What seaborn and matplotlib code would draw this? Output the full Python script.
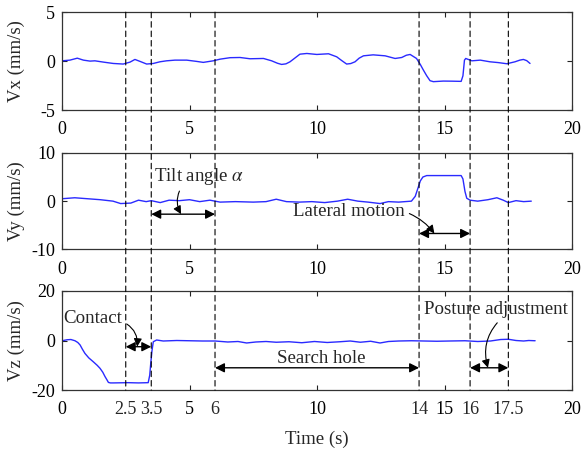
import numpy as np
import pandas as pd
import matplotlib
matplotlib.use("Agg")
import matplotlib.pyplot as plt
from matplotlib.patches import ConnectionPatch
import seaborn as sns

# Measured velocity components (time in s, velocity in mm/s)
t_vx = [0.0, 0.31, 0.6, 0.84, 1.1, 1.29, 1.62, 2.01, 2.4, 2.67, 2.86, 3.06, 3.32, 3.58,
        3.84, 4.1, 4.43, 4.89, 5.28, 5.54, 5.93, 6.2, 6.59, 6.98, 7.37, 7.9, 8.22, 8.45,
        8.61, 8.78, 8.94, 9.15, 9.33, 9.6, 9.99, 10.45, 10.77, 10.97, 11.16, 11.32, 11.49,
        11.65, 11.82, 12.2, 12.67, 13.06, 13.32, 13.5, 13.65, 13.9, 14.05, 14.17, 14.3,
        14.43, 14.56, 14.95, 15.3, 15.65, 15.72, 15.78, 15.83, 16.07, 16.4, 16.78, 17.1,
        17.44, 17.76, 17.95, 18.09, 18.22, 18.35]
vx = [0.03, 0.1, 0.3, 0.1, 0.0, 0.03, -0.1, -0.24, -0.3, -0.1, 0.17, -0.03, -0.3, -0.24,
      -0.07, 0.03, 0.1, 0.1, -0.03, -0.13, 0.03, 0.2, 0.35, 0.37, 0.24, 0.27, 0.03, -0.22,
      -0.34, -0.28, -0.07, 0.35, 0.71, 0.78, 0.68, 0.75, 0.44, 0.05, -0.3, -0.25, -0.07,
      0.3, 0.54, 0.64, 0.54, 0.27, 0.37, 0.6, 0.68, 0.27, -0.35, -0.92, -1.5, -2.0, -2.1,
      -2.04, -2.05, -2.07, -1.5, 0.1, 0.27, 0.03, 0.1, -0.07, -0.15, -0.27, -0.07, 0.1,
      0.17, 0.05, -0.24]

t_vy = [0.0, 0.5, 1.0, 1.5, 2.0, 2.3, 2.7, 3.0, 3.3, 3.5, 3.85, 4.2, 4.6, 5.0, 5.4, 5.8,
        6.2, 6.8, 7.5, 8.0, 8.4, 8.8, 9.3, 9.8, 10.3, 10.8, 11.2, 11.6, 12.0, 12.47,
        12.8, 13.2, 13.7, 13.85, 13.95, 14.05, 14.15, 14.3, 14.6, 15.0, 15.4, 15.65,
        15.72, 15.8, 15.87, 16.0, 16.3, 16.7, 17.05, 17.3, 17.5, 17.8, 18.1, 18.4]
vy = [0.5, 0.7, 0.5, 0.3, 0.0, -0.5, -0.4, 0.2, -0.1, 0.1, -0.3, 0.2, 0.1, 0.3, -0.1,
      0.2, -0.2, -0.1, -0.2, -0.1, 0.4, -0.1, -0.2, -0.1, -0.3, 0.0, 0.4, 0.0, -0.2,
      -0.5, -0.1, -0.2, 0.0, 1.0, 2.6, 4.2, 5.0, 5.3, 5.3, 5.3, 5.3, 5.3, 4.6, 2.0, 0.6,
      0.2, 0.0, 0.3, 0.7, 0.2, -0.3, 0.1, -0.1, 0.0]

t_vz = [0.0, 0.2, 0.35, 0.51, 0.62, 0.71, 0.8, 0.9, 1.05, 1.23, 1.38, 1.49, 1.6, 1.69,
        1.76, 1.82, 1.9, 2.01, 2.6, 3.0, 3.38, 3.44, 3.48, 3.53, 3.58, 3.71, 3.97, 4.5,
        5.0, 5.5, 6.0, 6.5, 6.9, 7.24, 7.6, 8.0, 8.4, 8.9, 9.4, 9.9, 10.4, 10.9, 11.3,
        11.7, 12.1, 12.47, 12.8, 13.2, 13.7, 14.2, 14.7, 15.2, 15.8, 16.3, 16.8, 17.2,
        17.5, 17.8, 18.1, 18.3, 18.55]
vz = [-0.1, 0.3, 0.4, -0.1, -0.8, -1.8, -3.5, -5.2, -7.0, -8.6, -10.0, -11.2, -12.8,
      -14.6, -15.8, -16.9, -17.1, -17.1, -17.0, -17.1, -17.0, -14.0, -9.2, -4.0, -0.5,
      0.2, -0.2, 0.0, -0.1, -0.2, -0.2, -0.6, -0.4, -1.0, -0.6, -0.4, -0.7, -0.5, -0.9,
      -0.4, -0.8, -0.5, -0.2, -0.7, -0.3, -1.0, -0.4, -0.2, -0.1, -0.2, -0.3, -0.2,
      -0.1, -0.4, -0.2, 0.4, 0.5, 0.0, -0.2, 0.0, -0.1]

# Phase boundaries (s) and their axis labels
events = [2.5, 3.5, 6, 14, 16, 17.5]
event_labels = ["2.5", "3.5", "6", "14", "16", "17.5"]

major_ticks = [0, 5, 10, 15, 20]
panel_labels = ["Vx (mm/s)", "Vy (mm/s)", "Vz (mm/s)"]
panel_ylims = [(-5, 5), (-10, 10), (-20, 20)]
panel_yticks = [[-5, 0, 5], [-10, 0, 10], [-20, 0, 20]]

sns.set_theme(style="ticks")
plt.rcParams["font.family"] = ["Liberation Serif", "DejaVu Serif"]
plt.rcParams["mathtext.fontset"] = "stix"
plt.rcParams["font.size"] = 13
plt.rcParams["axes.unicode_minus"] = False

TICK_FS = 13
LABEL_FS = 13.5
NOTE_FS = 13.6

fig = plt.figure(figsize=(5.82, 4.51), dpi=100)
rects = [(0.1065, 0.756, 0.8765, 0.217),
         (0.1065, 0.447, 0.8765, 0.214),
         (0.1065, 0.135, 0.8765, 0.220)]
axes = [fig.add_axes(r) for r in rects]

frames = [pd.DataFrame({"t": t_vx, "v": vx}),
          pd.DataFrame({"t": t_vy, "v": vy}),
          pd.DataFrame({"t": t_vz, "v": vz})]

for ax, df, lab, ylim, yt in zip(axes, frames, panel_labels, panel_ylims, panel_yticks):
    sns.lineplot(data=df, x="t", y="v", ax=ax, color="#2a2aff", lw=1.0,
                 solid_joinstyle="round")
    ax.set_xlim(0, 20)
    ax.set_ylim(*ylim)
    ax.set_xticks(major_ticks)
    ax.set_yticks(yt)
    ax.set_ylabel(lab, fontsize=LABEL_FS)
    ax.yaxis.set_label_coords(-0.072, 0.5)
    ax.set_xlabel("")
    ax.tick_params(direction="in", top=True, right=True, length=3.5, width=0.8,
                   colors="#222222", labelcolor="black", labelsize=TICK_FS)
    ax.tick_params(axis="x", pad=8)
    ax.tick_params(axis="y", pad=5)
    for s in ax.spines.values():
        s.set_color("#333333")
        s.set_linewidth(0.9)

# Bottom panel: event times labelled on the time axis
ax3 = axes[2]
ax3.set_xticks(events, minor=True)
ax3.set_xticklabels(event_labels, minor=True)
ax3.tick_params(axis="x", which="minor", length=0, pad=8, labelsize=TICK_FS)
ax3.set_xticks(major_ticks)
ax3.set_xticklabels(["0", "5", "10", "15", "20"])
ax3.set_xlabel("Time (s)", fontsize=LABEL_FS, labelpad=9)

# Dashed phase boundaries spanning all three panels
for x in events:
    con = ConnectionPatch(xyA=(x, 5), coordsA=axes[0].transData,
                          xyB=(x, -20), coordsB=axes[2].transData,
                          color="black", lw=0.8, linestyle=(0, (5, 3.5)))
    fig.add_artist(con)

dbl = dict(arrowstyle="<|-|>", color="black", lw=1.0, mutation_scale=14,
           shrinkA=0, shrinkB=0)
ptr = dict(arrowstyle="-|>", color="black", lw=0.8, mutation_scale=12, shrinkA=1, shrinkB=0)

# Vy panel annotations
ax2 = axes[1]
ax2.annotate("", xy=(3.5, -2.7), xytext=(6, -2.7), arrowprops=dbl)
ax2.annotate("Tilt angle $\\alpha$", xy=(4.67, -2.7), xytext=(5.37, 5.2),
             ha="center", va="center", fontsize=NOTE_FS,
             arrowprops=dict(ptr, connectionstyle="arc3,rad=0.3", relpos=(0.31, 0.0)))
ax2.annotate("", xy=(14, -6.7), xytext=(16, -6.7), arrowprops=dbl)
ax2.annotate("Lateral motion", xy=(14.6, -6.7), xytext=(11.25, -2.2),
             ha="center", va="center", fontsize=NOTE_FS,
             arrowprops=dict(ptr, connectionstyle="arc3,rad=-0.15", relpos=(1.0, 0.5)))

# Vz panel annotations
ax3.annotate("", xy=(2.5, -2.5), xytext=(3.5, -2.5), arrowprops=dbl)
ax3.annotate("Contact", xy=(2.95, -2.5), xytext=(1.21, 9.0),
             ha="center", va="center", fontsize=NOTE_FS,
             arrowprops=dict(ptr, connectionstyle="arc3,rad=-0.35", relpos=(1.0, 0.3)))
ax3.annotate("", xy=(6, -11), xytext=(14, -11), arrowprops=dbl)
ax3.text(10.18, -7.2, "Search hole", ha="center", va="center", fontsize=NOTE_FS)
ax3.annotate("", xy=(16, -11), xytext=(17.5, -11), arrowprops=dbl)
ax3.annotate("Posture adjustment", xy=(16.7, -11), xytext=(17.0, 12.3),
             ha="center", va="center", fontsize=NOTE_FS,
             arrowprops=dict(ptr, connectionstyle="arc3,rad=0.3", relpos=(0.54, 0.0)))

fig.savefig("out.png", dpi=100)
